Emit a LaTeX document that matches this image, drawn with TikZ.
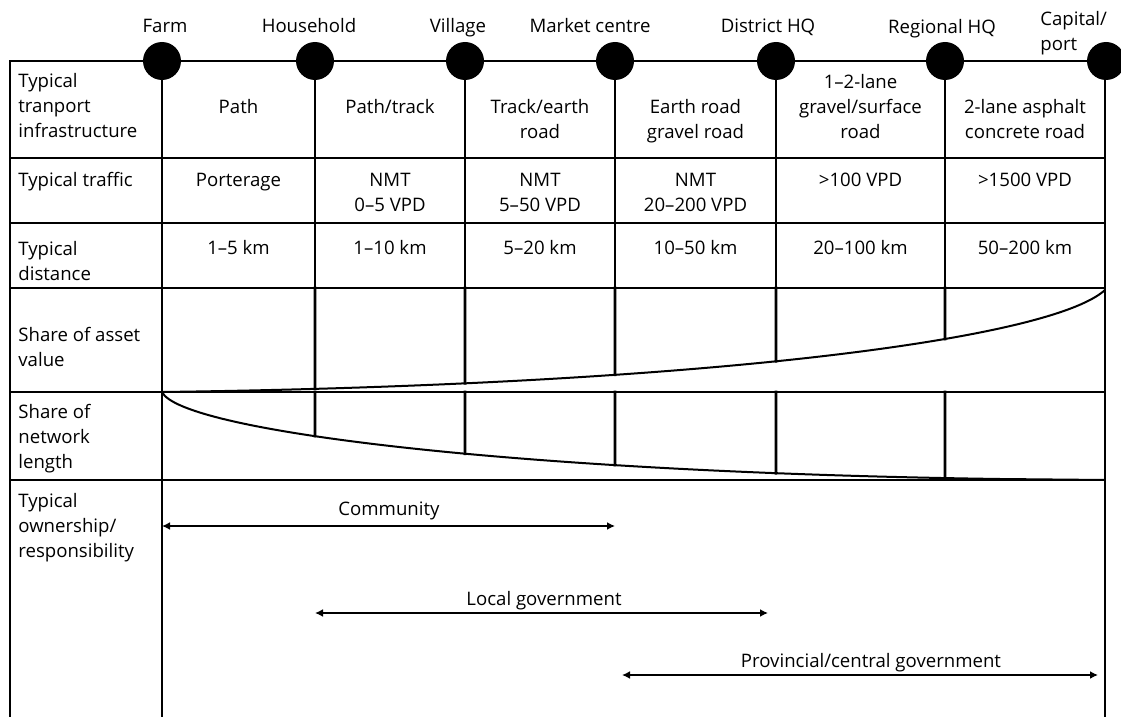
\documentclass[tikz,border=0pt]{standalone}
\usepackage{fontspec}
\setmainfont{Open Sans}
\usetikzlibrary{arrows.meta,intersections}
\newcommand{\lbl}{\fontsize{9.3}{12.5}\selectfont}
\tikzset{
	grid/.style={line width=1.35pt, line cap=rect},
	curve/.style={line width=1pt},
	place/.style={circle, fill=black, minimum size=19pt, inner sep=0pt},
	placelabel/.style={anchor=base, inner sep=0pt, font=\lbl},
	cell/.style={anchor=base, align=center, inner sep=0pt, font=\lbl},
	rowhead/.style={anchor=base west, align=left, inner sep=0pt, font=\lbl},
	span/.style={{Latex[length=4pt,width=4pt]}-{Latex[length=4pt,width=4pt]}, line width=1pt}
}

\begin{document}
\begin{tikzpicture}[x=0.5pt,y=-0.5pt]
			\useasboundingbox (0,0) rectangle (1121,717);
			% frame and rows
			\draw[grid] (10,717) -- (10,61) -- (1105,61);
			\foreach \y in {158,223,288,392,480}
				\draw[grid] (10,\y) -- (1105,\y);
			\draw[grid] (162,61) -- (162,717);
			\draw[grid] (1105,61) -- (1105,717);
			\foreach \x in {315,465,615,776,945}
				\draw[grid] (\x,61) -- (\x,288);
			% shares of value and length
			\draw[curve, name path=asset] (162,392) .. controls (700,385) and (1050,340) .. (1105,290);
			\draw[curve, name path=network] (162,392) .. controls (180,430) and (500,472) .. (1000,479) -- (1105,480);
			\foreach \x in {315,465,615,776,945} {
				\path[name path=cut] (\x,280) -- (\x,490);
				\draw[grid, name intersections={of=cut and asset}] (\x,288) -- (intersection-1);
				\draw[grid, name intersections={of=cut and network}] (\x,392) -- (intersection-1);
			}
			% places along the network
			\foreach \n/\x in {farm/162,household/315,village/465,market/615,district/776,regional/945,capital/1106}
				\node[place] (\n) at (\x,61) {};
			\node[placelabel] (farmlbl) at (165,33) {Farm};
			\node[placelabel] (householdlbl) at (309,33) {Household};
			\node[placelabel] (villagelbl) at (458,33) {Village};
			\node[placelabel] (marketlbl) at (590,33) {Market centre};
			\node[placelabel] (districtlbl) at (768,33) {District HQ};
			\node[placelabel] (regionallbl) at (942,34) {Regional HQ};
			\node[rowhead] (capitallbl) at (1040,51) {Capital/\\port};
			% row heads (base = last line)
			\node[rowhead] (infrahead) at (18,138) {Typical\\tranport\\infrastructure};
			\node[rowhead] (traffichead) at (18,187) {Typical traffic};
			\node[rowhead] (disthead) at (18,280) {Typical\\distance};
			\node[rowhead] (assethead) at (18,366) {Share of asset\\value};
			\node[rowhead] (networkhead) at (18,468) {Share of\\network\\length};
			\node[rowhead] (ownerhead) at (18,557) {Typical\\ownership/\\responsibility};
			% infrastructure
			\node[cell] (infra1) at (238.5,114) {Path};
			\node[cell] (infra2) at (390,114) {Path/track};
			\node[cell] (infra3) at (540,139) {Track/earth\\road};
			\node[cell] (infra4) at (695.5,139) {Earth road\\gravel road};
			\node[cell] (infra5) at (860.5,139) {1–2-lane\\gravel/surface\\road};
			\node[cell] (infra6) at (1025,139) {2-lane asphalt\\concrete road};
			% traffic
			\node[cell] (traffic1) at (238.5,187) {Porterage};
			\node[cell] (traffic2) at (390,212) {NMT\\0–5 VPD};
			\node[cell] (traffic3) at (540,212) {NMT\\5–50 VPD};
			\node[cell] (traffic4) at (695.5,212) {NMT\\20–200 VPD};
			\node[cell] (traffic5) at (860.5,187) {>100 VPD};
			\node[cell] (traffic6) at (1025,187) {>1500 VPD};
			% distance
			\node[cell] (dist1) at (238.5,255) {1–5 km};
			\node[cell] (dist2) at (390,255) {1–10 km};
			\node[cell] (dist3) at (540,255) {5–20 km};
			\node[cell] (dist4) at (695.5,255) {10–50 km};
			\node[cell] (dist5) at (860.5,255) {20–100 km};
			\node[cell] (dist6) at (1025,255) {50–200 km};
			% ownership
			\coordinate (commL) at (162,526);
			\coordinate (commR) at (615,526);
			\coordinate (localL) at (315,613);
			\coordinate (localR) at (768,613);
			\coordinate (provL) at (622,675);
			\coordinate (provR) at (1098,675);
			\draw[span] (commL) -- (commR);
			\draw[span] (localL) -- (localR);
			\draw[span] (provL) -- (provR);
			\node[cell] (community) at (389,515) {Community};
			\node[cell] (localgov) at (544,605) {Local government};
			\node[cell] (provgov) at (871,667) {Provincial/central government};
		\end{tikzpicture}
\end{document}
